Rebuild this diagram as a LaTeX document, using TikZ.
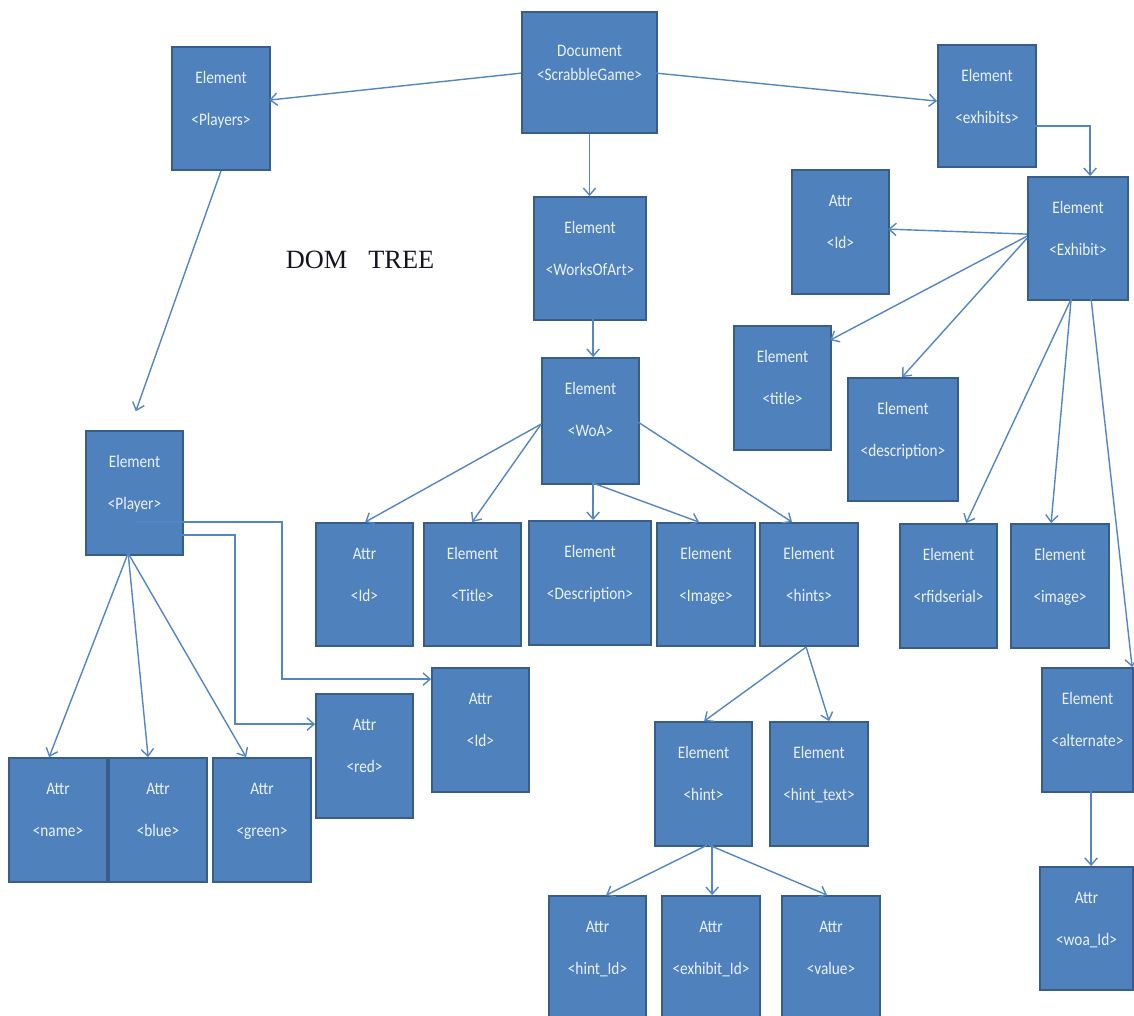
\documentclass[tikz,border=0pt]{standalone}
\usepackage{fontspec}
\setmainfont{Liberation Serif}
\newfontfamily\boxfont[FakeStretch=0.87]{Carlito}
\usetikzlibrary{arrows.meta}

\definecolor{boxfill}{RGB}{79,129,189}
\definecolor{boxline}{RGB}{56,93,138}
\definecolor{linkc}{RGB}{84,134,196}
\definecolor{txtc}{RGB}{236,241,249}

\tikzset{
  box/.style={draw=boxline, fill=boxfill, line width=1pt, inner sep=0pt},
  lbl/.style={anchor=base, font=\boxfont\fontsize{10}{12}\selectfont, text=txtc, inner sep=0pt},
  arr/.style={draw=linkc, line width=0.8pt, -{Straight Barb[length=4pt,width=7pt]}},
}

% \bx{name}{x1}{y1}{x2}{y2}{kind}{tag}: a DOM node box with two text lines
\newcommand{\bx}[7]{%
  \node[box, minimum width={(#4-#2)*0.02cm}, minimum height={(#5-#3)*0.02cm},
        label={[lbl,yshift=-0.74cm]north:#6},
        label={[lbl,yshift=-1.58cm]north:#7}]
    (#1) at ({(#2+#4)/2},{(#3+#5)/2}) {};}

\begin{document}
\begin{tikzpicture}[x=0.02cm,y=-0.02cm]
\useasboundingbox (0,0) rectangle (1134,1016);
\clip (0,0) rectangle (1134,1016);

% root
\node[box, minimum width=2.7cm, minimum height=2.42cm,
      label={[lbl,yshift=-0.90cm]north:Document},
      label={[lbl,yshift=-1.38cm]north:<ScrabbleGame>}]
  (doc) at (589.5,72.5) {};

% title
\node[anchor=base, font=\fontsize{15}{18}\selectfont, text={rgb,255:red,20;green,20;blue,30}, inner sep=0pt]
  (dom) at (360,269) {DOM\hspace{12pt}TREE};

% boxes
\bx{players}{172}{47}{270}{170}{Element}{<Players>}
\bx{exhibits}{938}{45}{1036}{167}{Element}{<exhibits>}
\bx{works}{534}{197}{646}{320}{Element}{<WorksOfArt>}
\bx{exid}{792}{170}{889}{294}{Attr}{<Id>}
\bx{exhibit}{1028}{177}{1128}{300}{Element}{<Exhibit>}
\bx{extitle}{734}{326}{831}{450}{Element}{<title>}
\bx{exdesc}{848}{378}{958}{501}{Element}{<description>}
\bx{woa}{542}{358}{639}{484}{Element}{<WoA>}
\bx{player}{86}{431}{183}{555}{Element}{<Player>}
\bx{woaid}{316}{523}{413}{646}{Attr}{<Id>}
\bx{woatitle}{424}{523}{521}{646}{Element}{<Title>}
\bx{woadesc}{529}{521}{651}{645}{Element}{<Description>}
\bx{woaimage}{657}{523}{755}{646}{Element}{<Image>}
\bx{hints}{760}{523}{858}{646}{Element}{<hints>}
\bx{rfid}{900}{524}{997}{648}{Element}{<rfidserial>}
\bx{eximage}{1011}{524}{1109}{648}{Element}{<image>}
\bx{plid}{432}{668}{529}{792}{Attr}{<Id>}
\bx{red}{316}{694}{413}{818}{Attr}{<red>}
\bx{alternate}{1042}{668}{1133}{792}{Element}{<alternate>}
\bx{name}{9}{758}{107}{882}{Attr}{<name>}
\bx{blue}{109}{758}{207}{882}{Attr}{<blue>}
\bx{green}{213}{758}{311}{882}{Attr}{<green>}
\bx{hint}{655}{722}{752}{846}{Element}{<hint>}
\bx{hinttext}{770}{722}{868}{846}{Element}{<hint\_text>}
\bx{hintid}{549}{896}{646}{1030}{Attr}{<hint\_Id>}
\bx{exhibitid}{662}{896}{760}{1030}{Attr}{<exhibit\_Id>}
\bx{value}{782}{896}{880}{1030}{Attr}{<value>}
\bx{woaidattr}{1040}{867}{1133}{990}{Attr}{<woa\_Id>}

% connectors from the document root
\draw[arr] ([shift={(0,62)}]doc.north west) -- ([shift={(98,54)}]players.north west);
\draw[arr] ([shift={(135,62)}]doc.north west) -- ([shift={(0,57)}]exhibits.north west);
\draw[arr] (doc.south) -- (doc.south |- works.north);

% players branch
\draw[arr, shorten >=0.4cm] (players.south) -- ([shift={(44,0)}]player.north west);
\draw[arr] ([shift={(43,123)}]player.north west) -- ([shift={(41,0)}]name.north west);
\draw[arr] ([shift={(43,123)}]player.north west) -- ([shift={(40,0)}]blue.north west);
\draw[arr] ([shift={(43,123)}]player.north west) -- ([shift={(34,0)}]green.north west);
\draw[arr] ([shift={(97,105)}]player.north west) -- ++(53,0) |- ([shift={(0,31)}]red.north west);
\draw[arr] ([shift={(51,92)}]player.north west) -- ++(146,0) |- ([shift={(0,12)}]plid.north west);

% works of art branch
\draw[arr] ([shift={(60,123)}]works.north west) -- ([shift={(52,0)}]woa.north west);
\draw[arr] ([shift={(0,67)}]woa.north west) -- ([shift={(50,0)}]woaid.north west);
\draw[arr] ([shift={(0,67)}]woa.north west) -- ([shift={(49,0)}]woatitle.north west);
\draw[arr] ([shift={(52,126)}]woa.north west) -- ([shift={(65,0)}]woadesc.north west);
\draw[arr] ([shift={(52,126)}]woa.north west) -- ([shift={(43,0)}]woaimage.north west);
\draw[arr] ([shift={(97,65)}]woa.north west) -- ([shift={(33,0)}]hints.north west);
\draw[arr] ([shift={(47,125)}]hints.north west) -- ([shift={(50,0)}]hint.north west);
\draw[arr] ([shift={(47,125)}]hints.north west) -- ([shift={(60,0)}]hinttext.north west);
\draw[arr] ([shift={(53,124)}]hint.north west) -- ([shift={(58,0)}]hintid.north west);
\draw[arr] ([shift={(58,124)}]hint.north west) -- ([shift={(51,0)}]exhibitid.north west);
\draw[arr] ([shift={(55,124)}]hint.north west) -- ([shift={(46,0)}]value.north west);

% exhibits branch
\draw[arr] ([shift={(98,82)}]exhibits.north west) -| ([shift={(63,0)}]exhibit.north west);
\draw[arr] ([shift={(0,58)}]exhibit.north west) -- ([shift={(97,60)}]exid.north west);
\draw[arr] ([shift={(0,60)}]exhibit.north west) -- ([shift={(97,15)}]extitle.north west);
\draw[arr] ([shift={(0,62)}]exhibit.north west) -- ([shift={(55,0)}]exdesc.north west);
\draw[arr] ([shift={(44,123)}]exhibit.north west) -- ([shift={(67,0)}]rfid.north west);
\draw[arr] ([shift={(44,123)}]exhibit.north west) -- ([shift={(41,0)}]eximage.north west);
\draw[arr] ([shift={(64,123)}]exhibit.north west) -- ([shift={(91,0)}]alternate.north west);
\draw[arr] ([shift={(50,124)}]alternate.north west) -- ([shift={(52,0)}]woaidattr.north west);
\end{tikzpicture}
\end{document}
